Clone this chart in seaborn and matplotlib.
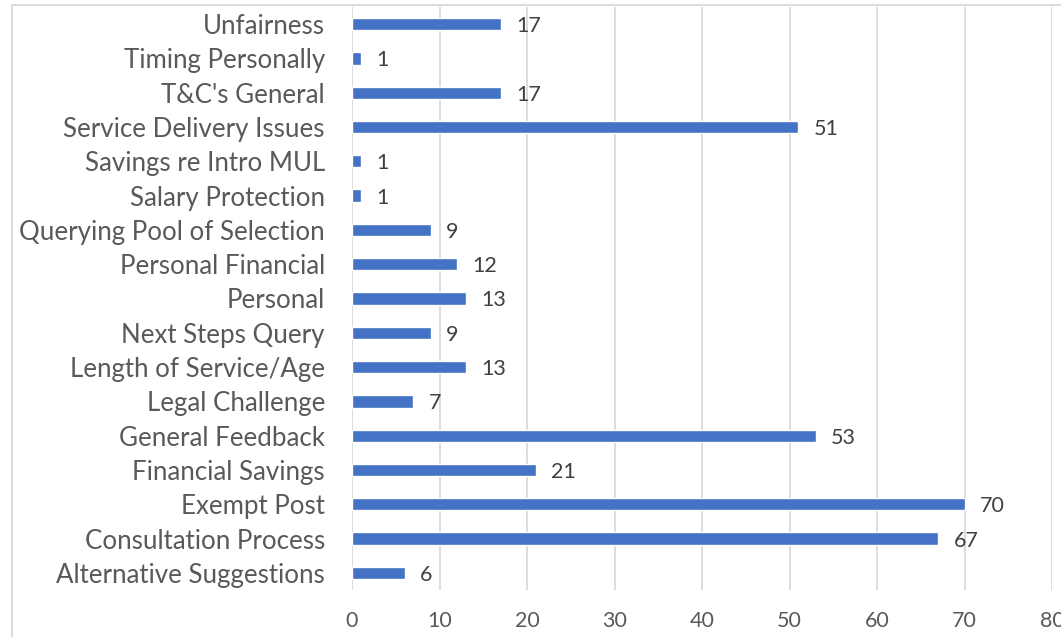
import matplotlib
matplotlib.use("Agg")
import matplotlib.pyplot as plt
import seaborn as sns
import pandas as pd
from matplotlib.patches import Rectangle

categories = ["Unfairness", "Timing Personally", "T&C's General", "Service Delivery Issues",
              "Savings re Intro MUL", "Salary Protection", "Querying Pool of Selection",
              "Personal Financial", "Personal", "Next Steps Query", "Length of Service/Age",
              "Legal Challenge", "General Feedback", "Financial Savings", "Exempt Post",
              "Consultation Process", "Alternative Suggestions"]
values = [17, 1, 17, 51, 1, 1, 9, 12, 13, 9, 13, 7, 53, 21, 70, 67, 6]
xticks = [0, 10, 20, 30, 40, 50, 60, 70, 80]

sns.set_style("white")
plt.rcParams['font.family'] = ['Lato', 'DejaVu Sans']

df = pd.DataFrame({"cat": categories, "val": values})
fig = plt.figure(figsize=(10.61, 6.37), dpi=100)
ax = fig.add_axes([352/1061, 1-590/637, (1052-352)/1061, (590-7)/637])
sns.barplot(data=df, y="cat", x="val", color="#4472C4", saturation=1, width=0.36, ax=ax, orient="h")
ax.set_xlim(0, 80)
ax.set_xticks(xticks)
ax.set_xlabel("")
ax.set_ylabel("")
for s in ax.spines.values():
    s.set_visible(False)
ax.grid(axis="x", color="#d9d9d9", linewidth=1.3)
ax.set_axisbelow(True)
ax.tick_params(axis="both", length=0, colors="#595959")
ax.tick_params(axis="x", pad=15, labelsize=15.5)
ax.tick_params(axis="y", pad=19.5, labelsize=18.6)
for t in ax.containers:
    labels = ax.bar_label(t, padding=11, fontsize=15.5, color="#404040")
    for lb in labels:
        lb.set_va("center_baseline")
fig.patches.append(Rectangle((12/1061, -0.1), 1.2, 1.1 - 5/637, transform=fig.transFigure,
                             fill=False, edgecolor="#d9d9d9", linewidth=1.3))
fig.savefig("out.png", dpi=100)
